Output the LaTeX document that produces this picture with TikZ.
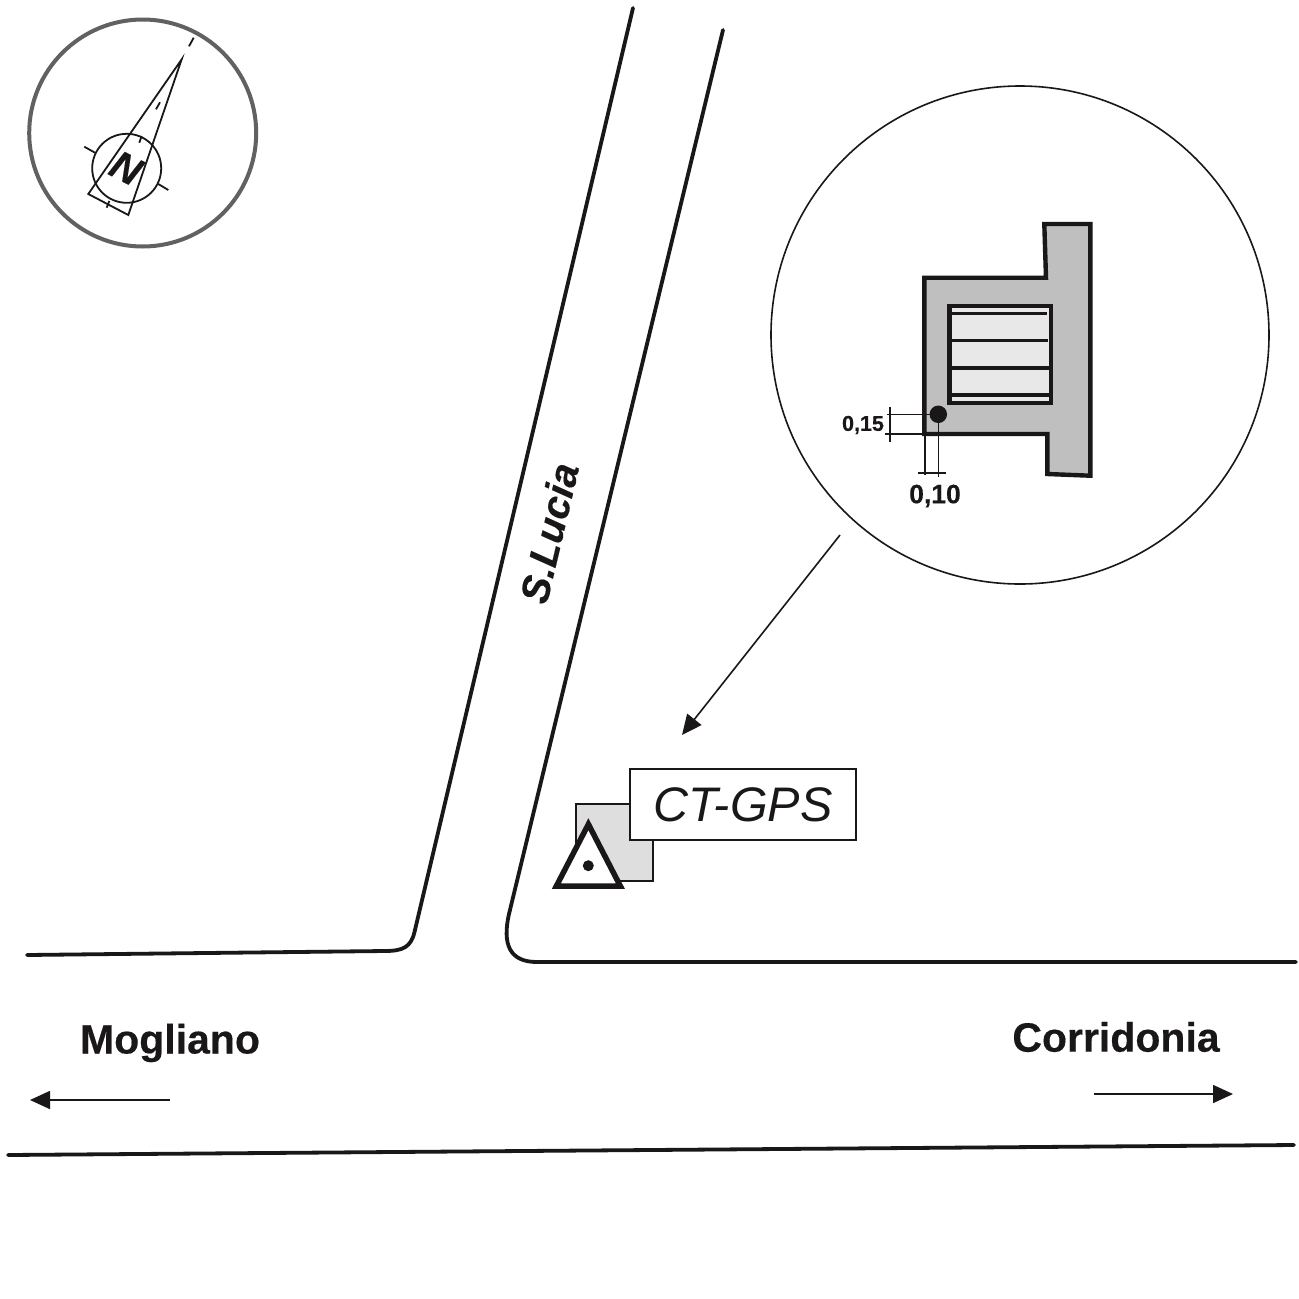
\documentclass[tikz,border=0pt]{standalone}
\usepackage{fontspec}
\setmainfont{Liberation Sans}
\newfontfamily\heavyfont[FakeBold=0.35]{Liberation Sans Bold}
\newfontfamily\heavyslant[FakeBold=0.35]{Liberation Sans Bold Italic}
\usetikzlibrary{arrows.meta}
\definecolor{ink}{HTML}{1A1718}
\tikzset{
  road/.style={draw=ink,line width=3.8pt,line cap=round},
  thin line/.style={draw=ink,line width=1.6pt},
  wall/.style={draw=ink,line width=4.4pt,line join=miter},
  bar/.style={draw=ink,line width=3.4pt},
  arrowline/.style={draw=ink,line width=1.6pt,-{Triangle[length=20pt,width=18pt]}},
  lab/.style={inner sep=0pt,text=ink,font=\heavyfont\fontsize{41}{41}\selectfont},
}
\begin{document}
\begin{tikzpicture}[x=1pt,y=-1pt]
\useasboundingbox (0,0) rectangle (1299,1299);
\fill[white] (0,0) rectangle (1299,1299);
% roads
\draw[road] (633,8) -- (414.5,932) .. controls (411,947) and (403,951) .. (385,951) -- (27,955);
\draw[road] (723,30) -- (509,914) .. controls (502,945) and (510,962) .. (537,962) -- (1296,962);
\draw[road] (8,1155) -- (1294,1145);
\node[lab,rotate=76.7,font=\heavyslant\fontsize{40}{40}\selectfont] (street) at (549,533) {S.Lucia};
\node[lab] (mog) at (170,1043) {Mogliano};
\node[lab] (cor) at (1116,1037) {Corridonia};
\coordinate (mogA) at (170,1100); \coordinate (mogB) at (30,1100);
\coordinate (corA) at (1094,1094); \coordinate (corB) at (1233,1094);
\draw[arrowline] (mogA) -- (mogB);
\draw[arrowline] (corA) -- (corB);
% compass
\node[circle,draw=black!62,line width=4pt,minimum size=227pt,inner sep=0pt] (rose) at (142.7,133) {};
\node[circle,thin line,line width=1.8pt,minimum size=69pt,inner sep=0pt] (ncirc) at (126.7,168.3) {};
\coordinate (tip) at (181.7,59.3); \coordinate (bl) at (88.3,194); \coordinate (br) at (128.3,215);
\draw[thin line,line width=1.8pt,line join=miter] (tip) -- (bl) -- (br) -- cycle;
\draw[thin line,line width=1.8pt] (84.3,146.7) -- (95,152.7) (158.3,184) -- (168.3,190)
  (141.7,136) -- (139.3,142.7) (109.3,201) -- (106.7,207.7)
  (160,102.3) -- (156,109.3) (193.7,37.7) -- (189,46.3);
\node[inner sep=0pt,rotate=-27,text=ink,font=\heavyslant\fontsize{40}{40}\selectfont] (north) at (126,168) {N};
% detail circle
\node[circle,thin line,minimum size=498pt,inner sep=0pt] (detail) at (1020,335) {};
\draw[wall,fill=black!25] (924.3,277.7) -- (1046,277.7) -- (1044.3,224) -- (1090.3,224) -- (1090.3,475.7) -- (1047.3,474) -- (1047.3,434) -- (924.3,434) -- cycle;
\draw[wall,fill=black!9] (949.3,306) rectangle (1051,402.7);
\draw[bar] (950,313.7) -- (1046.7,313.7);
\draw[bar] (946.7,340.7) -- (1048.3,340.7);
\draw[bar] (951.7,368) -- (1050,368);
\draw[bar] (950,395) -- (1050,395);
\draw[thin line] (887.3,414.3) -- (930,414.3) (885,434) -- (925,434) (890,406.7) -- (890,441.7)
  (925,434) -- (925,475) (938.3,414.3) -- (938.3,476.7) (918.3,473) -- (945.7,473);
\node[circle,fill=ink,minimum size=17.5pt,inner sep=0pt] (point) at (938.3,414.3) {};
\node[lab,font=\heavyfont\fontsize{21.5}{21.5}\selectfont] (d15) at (863,425) {0,15};
\node[lab,font=\heavyfont\fontsize{26.5}{26.5}\selectfont] (d10) at (935,496) {0,10};
\coordinate (leadA) at (840,535); \coordinate (leadB) at (682,735);
\draw[arrowline] (leadA) -- (leadB);
% station
\node[draw=ink,line width=1.7pt,fill=black!13,minimum size=77pt,inner sep=0pt] (pad) at (614.8,842.5) {};
\draw[draw=ink,line width=5.5pt,fill=white,line join=miter] (588.4,824.2) -- (556.3,886.2) -- (620.4,886.2) -- cycle;
\node[circle,fill=ink,minimum size=11pt,inner sep=0pt] (mark) at (588.3,865.7) {};
\node[draw=ink,line width=1.7pt,fill=white,minimum width=226pt,minimum height=71pt,inner sep=0pt,text=ink,font=\itshape\fontsize{48.5}{48.5}\selectfont] (ct) at (743,804.8) {CT-GPS};
\end{tikzpicture}
\end{document}
